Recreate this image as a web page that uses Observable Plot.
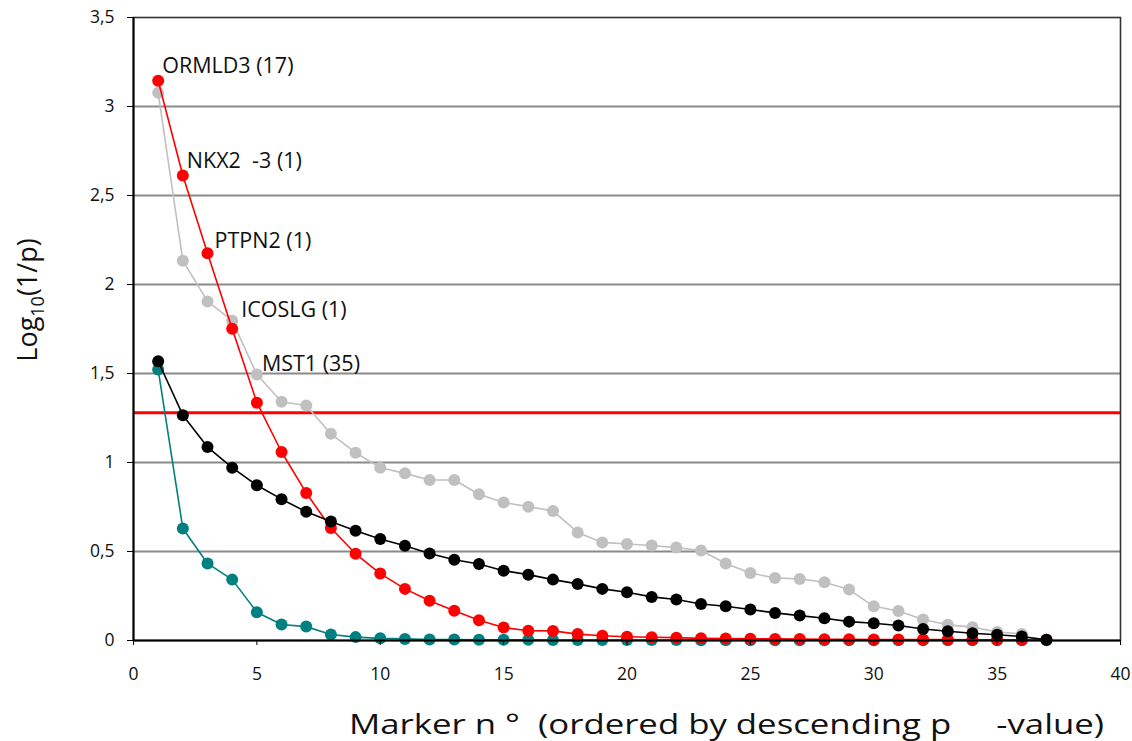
<!DOCTYPE html>
<html>
<head>
<meta charset="utf-8">
<script src="https://cdn.jsdelivr.net/npm/d3@7"></script>
<script src="https://cdn.jsdelivr.net/npm/@observablehq/plot@0.6"></script>
<style>
  html, body { margin: 0; padding: 0; background: #fff; }
  svg text { white-space: pre; }
</style>
</head>
<body>
<div id="chart"></div>
<script>
// Marker index (ordered by descending p-value)
const markers = d3.range(1, 38);

// Series values: log10(1/p)
const graySeries = [3.077, 2.134, 1.905, 1.797, 1.494, 1.341, 1.320, 1.161, 1.055, 0.971,
  0.939, 0.902, 0.902, 0.822, 0.775, 0.752, 0.728, 0.607, 0.551, 0.542,
  0.534, 0.522, 0.506, 0.433, 0.379, 0.351, 0.346, 0.327, 0.286, 0.192,
  0.166, 0.118, 0.088, 0.075, 0.048, 0.037];
const tealSeries = [1.522, 0.629, 0.433, 0.342, 0.159, 0.090, 0.078, 0.034, 0.019, 0.012,
  0.009, 0.006, 0.005, 0.004, 0.004, 0.004, 0.003, 0.003, 0.003, 0.003,
  0.003, 0.003, 0.002, 0.002, 0.002, 0.002, 0.002, 0.002, 0.002, 0.002,
  0.002, 0.001, 0.001, 0.001, 0.001, 0.001, 0.001];
const redSeries = [3.145, 2.612, 2.175, 1.752, 1.336, 1.059, 0.829, 0.632, 0.487, 0.376,
  0.290, 0.223, 0.167, 0.114, 0.073, 0.055, 0.054, 0.036, 0.027, 0.021,
  0.018, 0.016, 0.012, 0.011, 0.010, 0.009, 0.008, 0.007, 0.007, 0.006,
  0.006, 0.005, 0.005, 0.004, 0.004, 0.004, 0.004];
const blackSeries = [1.569, 1.266, 1.087, 0.971, 0.872, 0.794, 0.723, 0.668, 0.616, 0.570,
  0.532, 0.489, 0.454, 0.430, 0.392, 0.370, 0.342, 0.318, 0.290, 0.271,
  0.245, 0.230, 0.205, 0.192, 0.174, 0.155, 0.140, 0.125, 0.106, 0.097,
  0.084, 0.065, 0.052, 0.041, 0.032, 0.022, 0.004];

// Significance threshold
const threshold = [1.28];

// Tick values
const xTicks = [0, 5, 10, 15, 20, 25, 30, 35, 40];
const yTicks = [0, 0.5, 1, 1.5, 2, 2.5, 3, 3.5];
const gridTicks = [0.5, 1, 1.5, 2, 2.5, 3];

// Annotations
const labelTexts = ["ORMLD3 (17)", "NKX2  -3 (1)", "PTPN2 (1)", "ICOSLG (1)", "MST1 (35)"];
const labelMarkers = [1, 2, 3, 4, 5];
const labelSeriesName = ["red", "red", "red", "red", "gray"];

const seriesByName = {gray: graySeries, teal: tealSeries, red: redSeries, black: blackSeries};
const toRows = (vals) => vals.map((v, i) => ({x: markers[i], y: v}));

const series = [
  {name: "gray", color: "#c0c0c0"},
  {name: "teal", color: "#008080"},
  {name: "red", color: "#ff0000"},
  {name: "black", color: "#000000"}
];

const seriesMarks = series.flatMap(s => {
  const rows = toRows(seriesByName[s.name]);
  return [
    Plot.line(rows, {x: "x", y: "y", stroke: s.color, strokeWidth: 1.6}),
    Plot.dot(rows, {x: "x", y: "y", r: 6, fill: s.color, stroke: "none"})
  ];
});

const labelOffsets = [[4, -15], [4, -14], [7, -12], [9, -19], [5, -10]];
const labelMarks = labelTexts.map((t, i) => {
  const vals = seriesByName[labelSeriesName[i]];
  const row = {x: labelMarkers[i], y: vals[labelMarkers[i] - 1], t};
  return Plot.text([row], {
    x: "x", y: "y", text: "t",
    dx: labelOffsets[i][0], dy: labelOffsets[i][1],
    textAnchor: "start", fontSize: 21.5, fill: "#111"
  });
});

const chart = Plot.plot({
  width: 1132,
  height: 741,
  marginLeft: 133,
  marginRight: 12,
  marginTop: 17,
  marginBottom: 101,
  style: {fontFamily: "Open Sans", background: "#fff", color: "#111"},
  x: {domain: [0, 40]},
  y: {domain: [0, 3.5]},
  marks: [
    Plot.gridY(gridTicks, {stroke: "#8a8a8a", strokeOpacity: 1, strokeWidth: 1.9}),
    Plot.ruleY(threshold, {stroke: "#ff0000", strokeWidth: 3}),
    ...seriesMarks,
    Plot.frame({stroke: "#333", strokeWidth: 1.6}),
    Plot.ruleX([0], {stroke: "#000", strokeWidth: 2}),
    Plot.ruleY([0], {stroke: "#000", strokeWidth: 2}),
    Plot.axisX({ticks: xTicks, tickSize: 5, tickPadding: 22, fontSize: 17.5, label: null, stroke: "#000"}),
    Plot.axisY({ticks: yTicks, tickSize: 6, tickPadding: 13, fontSize: 17.5, label: null,
      tickFormat: d => String(d).replace(".", ","), stroke: "#000"}),
    ...labelMarks
  ]
});

document.getElementById("chart").appendChild(chart);

const svg = d3.select(chart);
// Y-axis title with subscript
const yt = svg.append("text")
  .attr("transform", "translate(37,300) rotate(-90)")
  .attr("text-anchor", "middle")
  .attr("font-family", "Open Sans")
  .attr("font-size", 27)
  .attr("fill", "#111");
yt.append("tspan").text("Log");
yt.append("tspan").attr("font-size", 18).attr("dy", 7).text("10");
yt.append("tspan").attr("dy", -7).text("(1/p)");

// X-axis title
svg.append("text")
  .attr("x", 349)
  .attr("y", 734)
  .attr("text-anchor", "start")
  .attr("font-family", "Open Sans")
  .attr("font-size", 27)
  .attr("fill", "#111")
  .attr("xml:space", "preserve")
  .attr("textLength", 755)
  .attr("lengthAdjust", "spacingAndGlyphs")
  .text("Marker n °  (ordered by descending p     -value)");
</script>
</body>
</html>
